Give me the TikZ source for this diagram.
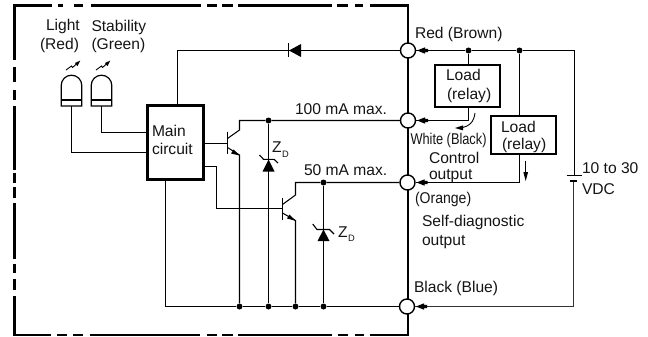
\documentclass[tikz,border=0pt]{standalone}
\usepackage{fontspec}
\setmainfont{Liberation Sans}
\tikzset{
  lbl/.style={inner sep=0pt,outer sep=0pt,anchor=base west,font=\fontsize{15.6}{18}\selectfont,text=black!92},
  wire/.style={line width=1.05pt,black},
  heavy/.style={line width=2.3pt,black},
  boxed/.style={draw=black,line width=2.3pt,fill=white,inner sep=0pt},
  term/.style={circle,draw=black,line width=1.4pt,fill=white,minimum size=15pt,inner sep=0pt},
  dotn/.style={circle,fill=black,minimum size=6pt,inner sep=0pt}
}
\newcommand{\termhead}[1]{%
  \fill[black] ($(#1)+(9,0)$) -- ($(#1)+(17,-3.2)$) -- ($(#1)+(17,-1.6)$) -- ($(#1)+(20,-1.6)$) -- ($(#1)+(20,1.6)$) -- ($(#1)+(17,1.6)$) -- ($(#1)+(17,3.2)$) -- cycle;}
\usetikzlibrary{calc}
\begin{document}
\begin{tikzpicture}[x=1pt,y=-1pt]
\useasboundingbox (0,0) rectangle (648,337);
% enclosure
\draw[heavy] (14.5,60) -- (14.5,5.5) -- (52,5.5);
\foreach \a/\b in {58/63,74/83,91/201,207/217,222/233,238/332,337/348,355/363} \draw[heavy] (\a,5.5) -- (\b,5.5);
\draw[heavy] (370,5.5) -- (408,5.5) -- (408,335) -- (370,335);
\foreach \a/\b in {355/364,338/348,238/332,222/233,207/217,90/200,73/83,57/67} \draw[heavy] (\a,335) -- (\b,335);
\draw[heavy] (51,335) -- (14.5,335) -- (14.5,296);
\foreach \a/\b in {279/290,264/273,203/259,187/198,173/183,106/170,90/100,67/82} \draw[heavy] (14.5,\a) -- (14.5,\b);
% terminals
\node[term] (tR) at (408,50.5) {};
\node[term] (tW) at (408,120.5) {};
\node[term] (tO) at (407.5,182.5) {};
\node[term] (tB) at (407,306.5) {};
% boxes
\node[boxed,minimum width=56pt,minimum height=74pt] (main) at (175.5,142.5) {};
\node[boxed,minimum width=65pt,minimum height=42pt] (loadA) at (467.5,86) {};
\node[boxed,minimum width=65pt,minimum height=38pt] (loadB) at (523.5,135) {};
\node[lbl] (tmain1) at (152,136) {Main};
\node[lbl] (tmain2) at (152,154) {circuit};
\node[lbl] (tla1) at (446,80.5) {Load};
\node[lbl] (tla2) at (447,99.5) {(relay)};
\node[lbl] (tlb1) at (501,132) {Load};
\node[lbl] (tlb2) at (502,149) {(relay)};
% LEDs
\foreach \n/\x in {ledA/71.5,ledB/101.5}{
  \draw[line width=1.2pt] (\x-10.3,106) -- (\x-10.3,85.5) arc[start angle=180,end angle=360,radius=10.3] -- (\x+10.3,106) -- cycle;
  \fill (\x-10.3,98.6) rectangle (\x+10.3,100.8);
  \coordinate (\n) at (\x,106);
  \draw[line width=0.9pt] (\x-5.5,70) -- (\x,66) -- (\x+1,67.5) -- (\x+5,64);
  \fill (\x+8.8,60.6) -- (\x+3.4,63) -- (\x+6,66.2) -- cycle;
}
\coordinate (jLa) at (71.5,152.5);
\coordinate (jLb) at (101.5,132.5);
\draw[wire] (ledA) -- (jLa) -- (jLa -| main.west);
\draw[wire] (ledB) -- (jLb) -- (jLb -| main.west);
% top line and diode
\coordinate (mTop) at (177.5,105.5);
\coordinate (cTop) at (177.5,50.5);
\node[inner sep=0pt,minimum size=0pt] (dio) at (289,50.5) {};
\draw[wire] (mTop) -- (cTop) -- (dio);
\draw[wire] (dio) -- (tR);
\fill (289,50.5) -- (301,44) -- (301,57) -- cycle;
\draw[line width=1.1pt] (288.5,43.5) -- (288.5,57.5);
% dots
\node[dotn] (d1) at (268.5,120.5) {};
\node[dotn] (d2) at (323.5,182.5) {};
\node[dotn] (b1) at (239.5,306.5) {};
\node[dotn] (b2) at (268.5,306.5) {};
\node[dotn] (b3) at (295.5,306.5) {};
\node[dotn] (b4) at (323.5,306.5) {};
% transistor 1
\coordinate (q1b) at (227.5,143.5);
\coordinate (q1c) at (239.5,130);
\coordinate (q1ct) at (239.5,120.5);
\coordinate (q1e) at (239.5,155);
\draw[wire] (main.east |- q1b) -- (q1b);
\draw[line width=1.3pt] (227.5,131.5) -- (227.5,153.5);
\draw[wire] (227.5,138.5) -- (q1c) -- (q1ct) -- (d1) -- (tW);
\draw[wire] (227.5,147.5) -- (q1e) -- (b1);
\fill (239.5,155.5) -- (231,153.5) -- (233.5,149.5) -- cycle;
% transistor 2
\coordinate (mq2) at (204,166.5);
\coordinate (q2k) at (216.5,166.5);
\coordinate (q2j) at (216.5,208.5);
\coordinate (q2b) at (282.5,208.5);
\coordinate (q2c) at (295.5,195);
\coordinate (q2ct) at (295.5,182.5);
\coordinate (q2e) at (295.5,220.5);
\draw[wire] (mq2) -- (q2k) -- (q2j) -- (q2b);
\draw[line width=1.3pt] (282.5,197.5) -- (282.5,220);
\draw[wire] (282.5,204.5) -- (q2c) -- (q2ct) -- (d2) -- (tO);
\draw[wire] (282.5,213) -- (q2e) -- (b3);
\fill (295.5,220.8) -- (287,218.5) -- (289.5,214.5) -- cycle;
% ground bus
\coordinate (mBot) at (165.5,179.5);
\coordinate (cBot) at (165.5,306.5);
\draw[wire] (mBot) -- (cBot) -- (b1) -- (b2) -- (b3) -- (b4) -- (tB);
% zeners
\draw[wire] (d1) -- (b2);
\draw[wire] (d2) -- (b4);
\fill (268.5,159.5) -- (262.5,171.5) -- (274.5,171.5) -- cycle;
\draw[line width=1.1pt] (259.5,155) -- (263.5,159.3) -- (274,159.3) -- (278,163);
\fill (323.5,229.5) -- (317.5,241) -- (329.5,241) -- cycle;
\draw[line width=1.1pt] (312.7,224) -- (317,229.5) -- (329.5,229.5) -- (334,234);
\node[lbl] (z1) at (272,152.7) {Z};
\node[lbl,font=\fontsize{9.3}{10}\selectfont] (z1s) at (282,157.7) {D};
\node[lbl] (z2) at (338,237) {Z};
\node[lbl,font=\fontsize{9.3}{10}\selectfont] (z2s) at (348,241.7) {D};
% external
\node[dotn] (e1) at (468.5,50.5) {};
\node[dotn] (e2) at (519.5,50.5) {};
\coordinate (cR) at (574.5,50.5);
\coordinate (batP) at (574.5,175.5);
\coordinate (batN) at (573.5,181);
\coordinate (cB) at (573.5,306.5);
\coordinate (cA) at (468.5,120.5);
\coordinate (cC) at (519.5,182.5);
\draw[wire] (tR) -- (e1) -- (e2) -- (cR) -- (batP);
\draw[wire] (e1) -- (loadA.north -| e1);
\draw[wire] (e2) -- (loadB.north -| e2);
\draw[wire] (loadA.south -| cA) -- (cA) -- (tW);
\draw[wire] (loadB.south -| cC) -- (cC) -- (tO);
\draw[wire,black!80] (batN) -- (cB) -- (tB);
\draw[line width=1.3pt] (566.5,175.5) -- (581.5,175.5);
\draw[line width=2.4pt] (570,181) -- (577,181);
\termhead{tR}\termhead{tW}\termhead{tO}\termhead{tB}
% current arrows
\draw[line width=0.9pt] (475,113) .. controls (474,122) and (469,127) .. (460,127.8);
\fill (455,128) -- (463,125.4) -- (463,130.4) -- cycle;
\draw[line width=0.9pt] (525.7,160.5) -- (525.7,175);
\fill (525.7,181) -- (523.3,172) -- (528.1,172) -- cycle;
% labels
\node[lbl] (lLight) at (46,31) {Light};
\node[lbl] (lRed) at (40,50) {(Red)};
\node[lbl] (lStab) at (91.5,32) {Stability};
\node[lbl] (lGreen) at (91.5,50) {(Green)};
\node[lbl] (l100) at (295,114.5) {100 mA max.};
\node[lbl] (l50) at (304,175) {50 mA max.};
\node[lbl] (lRB) at (415,39) {Red (Brown)};
\node[lbl,xscale=0.82] (lWB) at (410.5,144.5) {White (Black)};
\node[lbl] (lCtl) at (429,163.5) {Control};
\node[lbl] (lOut) at (429,179) {output};
\node[lbl,xscale=0.9] (lOr) at (415,203) {(Orange)};
\node[lbl] (lSD) at (422,226) {Self-diagnostic};
\node[lbl] (lOut2) at (422,245) {output};
\node[lbl] (lBB) at (414,292) {Black (Blue)};
\node[lbl] (lV1) at (582,173) {10 to 30};
\node[lbl] (lV2) at (582,194) {VDC};
\end{tikzpicture}
\end{document}
